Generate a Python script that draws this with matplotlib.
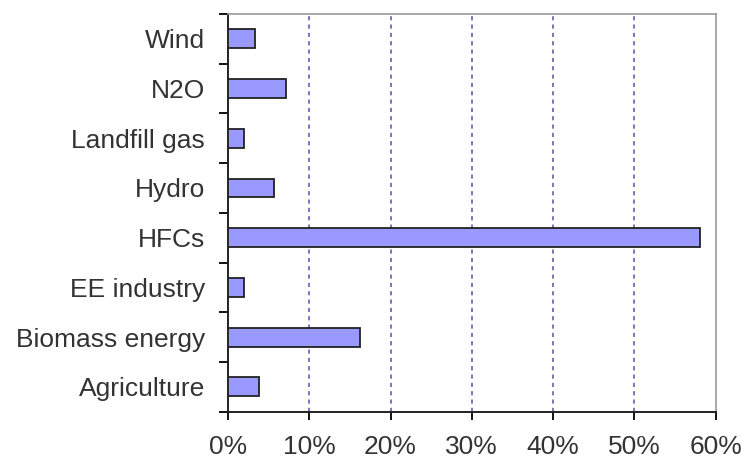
import matplotlib
matplotlib.use("Agg")
import matplotlib.pyplot as plt
from matplotlib.ticker import FixedLocator, PercentFormatter

plt.rcParams["font.family"] = ["Liberation Sans", "DejaVu Sans"]

# Share by project type, bottom to top
categories = ["Agriculture", "Biomass energy", "EE industry", "HFCs",
              "Hydro", "Landfill gas", "N2O", "Wind"]
shares = [3.8, 16.3, 2.0, 58.1, 5.6, 2.0, 7.1, 3.3]
x_ticks = [0, 10, 20, 30, 40, 50, 60]

fig = plt.figure(figsize=(7.41, 4.63), dpi=100)
ax = fig.add_axes([0.3077, 0.1108, 0.6579, 0.859])

ypos = range(len(categories))
ax.barh(ypos, shares, height=0.38, color="#9999ff",
        edgecolor="#222222", linewidth=1.3, zorder=3)

ax.set_xlim(0, 60)
ax.set_ylim(-0.5, len(categories) - 0.5)

# Dashed vertical gridlines
for x in x_ticks[1:-1]:
    ax.axvline(x, color="#6060b0", linestyle=(0, (2.5, 2.5)), linewidth=1.2, zorder=1)

ax.set_xticks(x_ticks)
ax.xaxis.set_major_formatter(PercentFormatter(decimals=0))
ax.tick_params(axis="x", direction="out", length=6, width=1.3,
               pad=11, labelsize=19, labelcolor="#333333")

ax.set_yticks(list(ypos))
ax.set_yticklabels(categories)
ax.yaxis.set_minor_locator(FixedLocator([i - 0.5 for i in range(len(categories) + 1)]))
ax.tick_params(axis="y", which="major", length=0, pad=16.5,
               labelsize=19, labelcolor="#333333")
ax.tick_params(axis="y", which="minor", direction="out", length=6.5, width=1.3)

for side in ("left", "bottom"):
    ax.spines[side].set_color("#222222")
    ax.spines[side].set_linewidth(1.4)
for side in ("top", "right"):
    ax.spines[side].set_color("#999999")
    ax.spines[side].set_linewidth(1.2)

fig.savefig("out.png", dpi=100)
